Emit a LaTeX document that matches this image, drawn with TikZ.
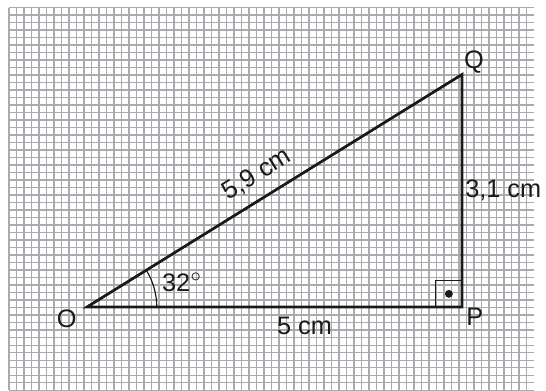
\documentclass[tikz,border=0pt]{standalone}
\usepackage{fontspec}
\setmainfont{Liberation Sans}
\usepackage{tikz}
\usetikzlibrary{calc}
\definecolor{ink}{HTML}{1A1A1A}
\definecolor{paper}{HTML}{ABABAF}

\begin{document}
\begin{tikzpicture}[every node/.style={font=\fontsize{9.6}{11}\selectfont,text=ink}]
  \useasboundingbox (0,0) rectangle (7.28,5.213);
  % squared paper
  \begin{scope}[shift={(0.12,0.01)}]
    \draw[paper,line width=0.55pt,step=0.1] (0,0) grid (7.0,5.1);
  \end{scope}
  % triangle
  \coordinate (O) at (1.16,1.12);
  \coordinate (P) at ($(O)+(5,0)$);
  \coordinate (Q) at ($(P)+(0,3.1)$);
  \draw[ink,line width=1pt,line join=miter] (O) -- (P) -- (Q) -- cycle;
  \draw[ink,line width=0.8pt] (O) -- (Q) node[pos=0.485,sloped,above=1pt] (hyp) {5,9 cm};
  % angle at O and right angle at P
  \draw[ink,line width=0.45pt] ($(O)+(0.93,0)$) arc[start angle=0,end angle=32,radius=0.93];
  \node (ang) at ($(O)+(1.27,0.33)$) {32$^\circ$};
  \draw[ink,line width=0.45pt] ($(P)+(-0.35,0)$) |- ($(P)+(0,0.35)$);
  \fill[ink] ($(P)+(-0.175,0.175)$) circle (1.5pt);
  % labels
  \node (lO) at ($(O)+(-0.27,-0.16)$) {O};
  \node (lP) at ($(P)+(0.17,-0.13)$) {P};
  \node (lQ) at ($(Q)+(0.16,0.16)$) {Q};
  \node (lOP) at ($(O)!0.58!(P)+(0,-0.25)$) {5 cm};
  \node (lPQ) at ($(P)!0.5!(Q)+(0.55,0)$) {3,1 cm};
\end{tikzpicture}
\end{document}
